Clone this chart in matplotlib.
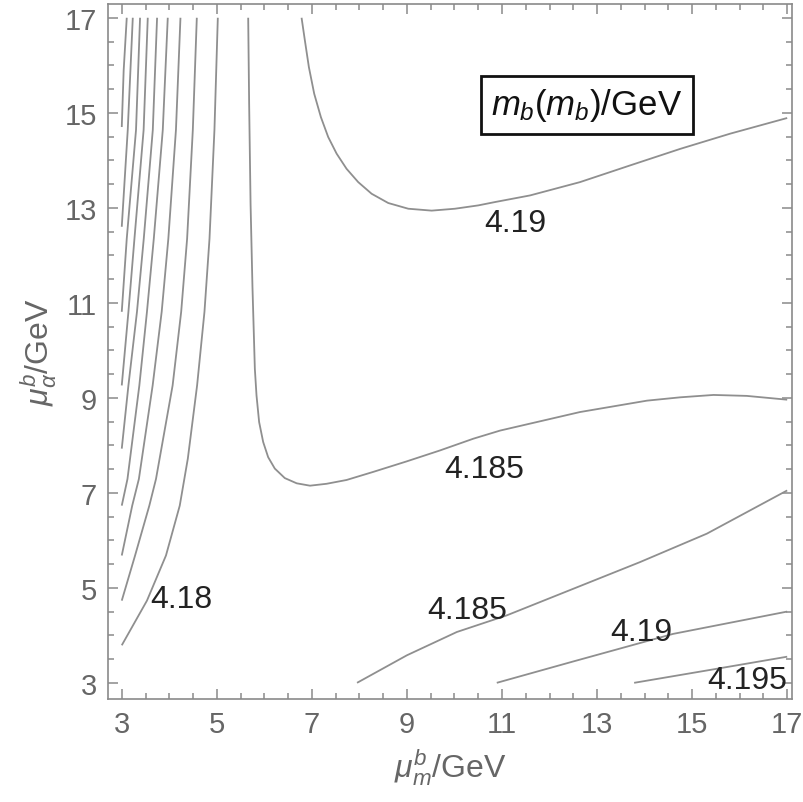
import matplotlib
matplotlib.use("Agg")
import matplotlib.pyplot as plt
from matplotlib.ticker import MultipleLocator

plt.rcParams['font.family'] = ['Liberation Sans', 'DejaVu Sans']
plt.rcParams['mathtext.fontset'] = 'custom'
plt.rcParams['mathtext.rm'] = 'Liberation Sans'
plt.rcParams['mathtext.it'] = 'Liberation Sans:italic'

# contour lines, (mu_m, mu_alpha) in GeV
left_lines = [
    ([3.105, 3.04, 3.0], [17.0, 15.89, 14.7]),
    ([3.232, 3.126, 3.0], [17.0, 14.64, 12.6]),
    ([3.385, 3.30, 3.105, 3.0], [17.0, 14.64, 12.35, 10.81]),
    ([3.547, 3.46, 3.267, 3.14, 3.0], [17.0, 14.64, 12.35, 10.81, 9.26]),
    ([3.743, 3.653, 3.463, 3.32, 3.14, 3.0], [17.0, 14.64, 12.35, 10.81, 9.26, 7.93]),
    ([3.968, 3.863, 3.674, 3.53, 3.37, 3.12, 3.0], [17.0, 14.64, 12.35, 10.81, 9.26, 7.29, 6.73]),
    ([4.235, 4.14, 3.98, 3.84, 3.65, 3.36, 3.22, 3.0], [17.0, 14.64, 12.35, 10.81, 9.26, 7.29, 6.73, 5.68]),
    ([4.579, 4.495, 4.375, 4.25, 4.07, 3.72, 3.58, 3.28, 3.0],
     [17.0, 14.64, 12.35, 10.81, 9.26, 7.29, 6.73, 5.68, 4.73]),
    ([5.021, 4.95, 4.846, 4.74, 4.585, 4.39, 4.22, 3.93, 3.53, 3.0],
     [17.0, 14.64, 12.35, 10.81, 9.26, 7.72, 6.73, 5.68, 4.73, 3.79]),
]

mid_x = [5.66, 5.68, 5.71, 5.75, 5.78, 5.80, 5.835, 5.89, 5.975, 6.08, 6.22, 6.43, 6.68, 6.96,
         7.31, 7.73, 8.29, 8.99, 9.69, 10.40, 10.96, 12.64, 14.05, 14.75, 15.45, 16.15, 17.0]
mid_y = [17.0, 15.19, 13.08, 11.33, 10.3, 9.61, 9.05, 8.49, 8.07, 7.75, 7.51, 7.31, 7.20, 7.15,
         7.19, 7.27, 7.44, 7.66, 7.89, 8.14, 8.31, 8.70, 8.94, 9.01, 9.06, 9.04, 8.96]

up_x = [6.783, 6.853, 6.937, 7.049, 7.189, 7.343, 7.52, 7.73, 7.975, 8.257, 8.607, 9.028,
        9.52, 10.01, 10.50, 10.85, 11.59, 12.64, 13.69, 14.75, 15.8, 17.0]
up_y = [17.0, 16.52, 15.96, 15.40, 14.91, 14.49, 14.14, 13.82, 13.54, 13.295, 13.10, 12.98,
        12.94, 12.98, 13.05, 13.12, 13.26, 13.54, 13.89, 14.24, 14.56, 14.89]

low1_x = [7.95, 9.0, 10.05, 11.1, 12.5, 13.9, 15.31, 17.0]
low1_y = [3.0, 3.58, 4.07, 4.42, 4.98, 5.54, 6.14, 7.05]

low2_x = [10.89, 12.5, 14.6, 17.0]
low2_y = [3.0, 3.45, 4.03, 4.50]

low3_x = [13.78, 15.31, 17.0]
low3_y = [3.0, 3.26, 3.55]

label_text = ['4.18', '4.185', '4.19', '4.185', '4.19', '4.195']
label_x = [4.25, 10.62, 11.27, 10.26, 13.94, 16.15]
label_y = [4.77, 7.51, 12.68, 4.54, 4.07, 3.05]

fig = plt.figure(figsize=(8.04, 8.03), dpi=100)
ax = fig.add_axes([0.1343, 0.1283, 0.8507, 0.8655])

line_kw = dict(color='#8f8f8f', lw=1.3, solid_capstyle='butt', solid_joinstyle='round')
for xs, ys in left_lines:
    ax.plot(xs, ys, **line_kw)
for xs, ys in [(mid_x, mid_y), (up_x, up_y), (low1_x, low1_y), (low2_x, low2_y), (low3_x, low3_y)]:
    ax.plot(xs, ys, **line_kw)

for t, x, y in zip(label_text, label_x, label_y):
    ax.text(x, y, t, fontsize=23, color='#222222', ha='center', va='center')

ax.text(0.70, 0.855, r'$m_b(m_b)$/GeV', transform=ax.transAxes, fontsize=25,
        color='#111111', ha='center', va='center',
        bbox=dict(boxstyle='square,pad=0.3', fc='white', ec='#111111', lw=2))

ax.set_xlim(2.71, 17.1)
ax.set_ylim(2.66, 17.29)
ax.xaxis.set_minor_locator(MultipleLocator(0.5))
ax.yaxis.set_minor_locator(MultipleLocator(0.5))
ax.set_xticks(range(3, 18, 2))
ax.set_yticks(range(3, 18, 2))

frame = '#8a8a8a'
for s in ax.spines.values():
    s.set_color(frame)
    s.set_linewidth(1.2)
ax.tick_params(which='both', direction='in', top=True, right=True, color=frame,
               labelcolor='#666666', labelsize=21, width=1.1)
ax.tick_params(which='major', length=7, pad=8)
ax.tick_params(which='minor', length=4)

ax.set_xlabel(r'$\mu_m^b$/GeV', fontsize=23, color='#666666', labelpad=6)
ax.set_ylabel(r'$\mu_\alpha^b$/GeV', fontsize=23, color='#666666', labelpad=4)

fig.savefig('out.png', dpi=100)
